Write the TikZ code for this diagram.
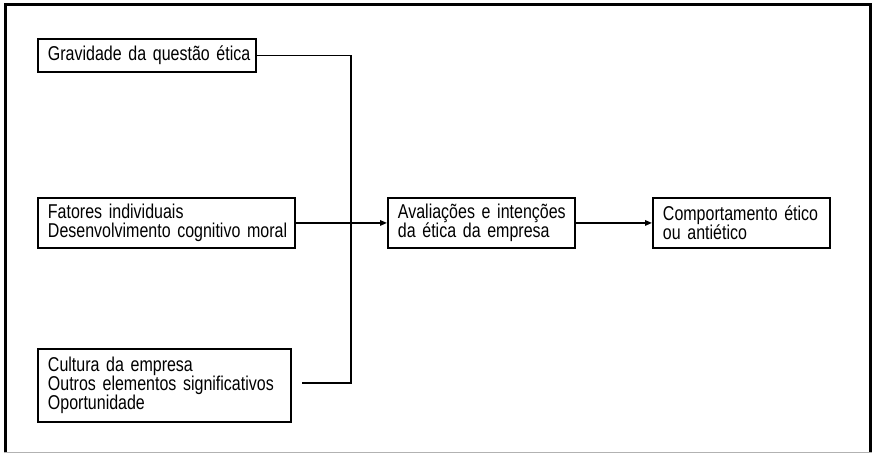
\documentclass[tikz,border=0pt]{standalone}
\usepackage{fontspec}
\setmainfont[FakeStretch=0.8]{Liberation Sans}
\usetikzlibrary{arrows.meta}
\begin{document}
\begin{tikzpicture}[x=1pt,y=-1pt,
  box/.style={draw, line width=1.9pt, anchor=north west, inner xsep=10pt,
    inner ysep=0pt, align=left, font=\fontsize{20}{19}\selectfont},
  link/.style={line width=1.5pt},
  tip/.style={-{Triangle[length=7pt,width=5.5pt]}}
]
\useasboundingbox (0,0) rectangle (873,454);

% frame
\draw[line width=3pt] (5.5,453) -- (5.5,4.5) -- (870.5,4.5) -- (870.5,453);
\draw[gray!60, line width=1pt] (4,452.5) -- (872,452.5);

% factor boxes
\node[box, text width=198pt, minimum height=33pt] (g) at (37,38)
  {\mbox{Gravidade da questão ética}};
\node[box, text width=237pt, minimum height=50pt] (f) at (37,197)
  {\mbox{Fatores individuais}\\\mbox{Desenvolvimento cognitivo moral}};
\node[box, text width=233pt, minimum height=73pt] (c) at (37,348)
  {\mbox{Cultura da empresa}\\\mbox{Outros elementos significativos}\\\mbox{Oportunidade}};

% evaluation and behaviour
\node[box, text width=167pt, minimum height=50pt] (a) at (387,197)
  {\mbox{Avaliações e intenções}\\\mbox{da ética da empresa}};
\node[box, text width=157pt, minimum height=50pt] (b) at (652,197)
  {\mbox{Comportamento ético}\\\mbox{ou antiético}};

% connectors
\coordinate (j) at (351,383);
\coordinate (ce) at (302,383);
\draw[link] (g.east) -| (j) -- (ce);
\draw[link, tip] (f.east) -- (a.west);
\draw[link, tip] (a.east) -- (b.west);
\end{tikzpicture}
\end{document}
